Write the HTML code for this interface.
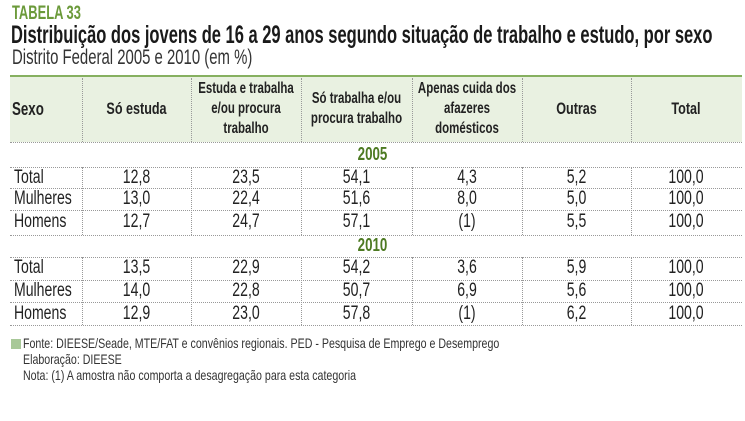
<!DOCTYPE html>
<html><head><meta charset="utf-8"><style>
body{margin:0;width:745px;height:421px;background:#fff;position:relative;overflow:hidden;font-family:"Liberation Sans",sans-serif;color:#222}
.a{position:absolute;white-space:nowrap;transform-origin:0 0}
.h{position:absolute;border-top:1px dotted #999;left:10px;width:732px;height:0}
.v{position:absolute;border-left:1px dotted #999;width:0}
.c{position:absolute;text-align:center;font-size:19px;line-height:22px;transform:scaleX(.74);transform-origin:50% 0;white-space:nowrap}
.l{text-align:left;transform-origin:0 0}
.hd{position:absolute;text-align:center;font-weight:bold;font-size:15.5px;line-height:20px;display:flex;align-items:center;justify-content:center;height:66px;top:76px;white-space:nowrap;transform:scaleX(.74);transform-origin:50% 0}
.yr{position:absolute;left:0;width:745px;text-align:center;color:#4d7a22;font-weight:bold;font-size:18px;transform:scaleX(.74);transform-origin:50% 0}
</style></head><body>
<div class="a" style="left:12px;top:3px;font-size:19px;font-weight:bold;color:#6b9a3a;transform:scaleX(.68)">TABELA 33</div>
<div class="a" style="left:11px;top:21px;font-size:25px;font-weight:bold;color:#1a1a1a;transform:scaleX(.66)">Distribuição dos jovens de 16 a 29 anos segundo situação de trabalho e estudo, por sexo</div>
<div class="a" style="left:12px;top:46px;font-size:21px;color:#333;transform:scaleX(.71)">Distrito Federal 2005 e 2010 (em %)</div>
<div style="position:absolute;left:10px;top:75px;width:732px;height:67px;background:#e9f1e1;border-top:2px solid #86b060;box-sizing:border-box"></div>
<div class="hd" style="left:12px;width:70px;justify-content:flex-start;font-size:18px;transform-origin:0 0">Sexo</div>
<div class="hd" style="left:82px;width:109px;font-size:17px">Só estuda</div>
<div class="hd" style="left:191px;width:110px">Estuda e trabalha<br>e/ou procura<br>trabalho</div>
<div class="hd" style="left:301px;width:111px">Só trabalha e/ou<br>procura trabalho</div>
<div class="hd" style="left:412px;width:110px">Apenas cuida dos<br>afazeres<br>domésticos</div>
<div class="hd" style="left:522px;width:109px;font-size:17px">Outras</div>
<div class="hd" style="left:631px;width:110px;font-size:17px">Total</div>
<div class="v" style="left:82px;top:78px;height:64px"></div>
<div class="v" style="left:191px;top:78px;height:64px"></div>
<div class="v" style="left:301px;top:78px;height:64px"></div>
<div class="v" style="left:412px;top:78px;height:64px"></div>
<div class="v" style="left:522px;top:78px;height:64px"></div>
<div class="v" style="left:631px;top:78px;height:64px"></div>
<div class="h" style="top:142px"></div>
<div class="yr" style="top:144px">2005</div>
<div class="h" style="top:167px"></div>
<div class="h" style="top:188px"></div>
<div class="h" style="top:210px"></div>
<div class="h" style="top:235px"></div>
<div class="yr" style="top:235px">2010</div>
<div class="h" style="top:257px"></div>
<div class="h" style="top:280px"></div>
<div class="h" style="top:302px"></div>
<div class="h" style="top:325px"></div>
<div class="v" style="left:82px;top:167px;height:68px"></div>
<div class="v" style="left:191px;top:167px;height:68px"></div>
<div class="v" style="left:301px;top:167px;height:68px"></div>
<div class="v" style="left:412px;top:167px;height:68px"></div>
<div class="v" style="left:522px;top:167px;height:68px"></div>
<div class="v" style="left:631px;top:167px;height:68px"></div>
<div class="v" style="left:82px;top:257px;height:68px"></div>
<div class="v" style="left:191px;top:257px;height:68px"></div>
<div class="v" style="left:301px;top:257px;height:68px"></div>
<div class="v" style="left:412px;top:257px;height:68px"></div>
<div class="v" style="left:522px;top:257px;height:68px"></div>
<div class="v" style="left:631px;top:257px;height:68px"></div>

<div class="c l" style="left:14px;top:167px">Total</div>
<div class="c" style="left:82px;width:109px;top:167px">12,8</div>
<div class="c" style="left:191px;width:110px;top:167px">23,5</div>
<div class="c" style="left:301px;width:111px;top:167px">54,1</div>
<div class="c" style="left:412px;width:110px;top:167px">4,3</div>
<div class="c" style="left:522px;width:109px;top:167px">5,2</div>
<div class="c" style="left:631px;width:110px;top:167px">100,0</div>
<div class="c l" style="left:14px;top:188px">Mulheres</div>
<div class="c" style="left:82px;width:109px;top:188px">13,0</div>
<div class="c" style="left:191px;width:110px;top:188px">22,4</div>
<div class="c" style="left:301px;width:111px;top:188px">51,6</div>
<div class="c" style="left:412px;width:110px;top:188px">8,0</div>
<div class="c" style="left:522px;width:109px;top:188px">5,0</div>
<div class="c" style="left:631px;width:110px;top:188px">100,0</div>
<div class="c l" style="left:14px;top:211px">Homens</div>
<div class="c" style="left:82px;width:109px;top:211px">12,7</div>
<div class="c" style="left:191px;width:110px;top:211px">24,7</div>
<div class="c" style="left:301px;width:111px;top:211px">57,1</div>
<div class="c" style="left:412px;width:110px;top:211px">(1)</div>
<div class="c" style="left:522px;width:109px;top:211px">5,5</div>
<div class="c" style="left:631px;width:110px;top:211px">100,0</div>

<div class="c l" style="left:14px;top:257px">Total</div>
<div class="c" style="left:82px;width:109px;top:257px">13,5</div>
<div class="c" style="left:191px;width:110px;top:257px">22,9</div>
<div class="c" style="left:301px;width:111px;top:257px">54,2</div>
<div class="c" style="left:412px;width:110px;top:257px">3,6</div>
<div class="c" style="left:522px;width:109px;top:257px">5,9</div>
<div class="c" style="left:631px;width:110px;top:257px">100,0</div>
<div class="c l" style="left:14px;top:280px">Mulheres</div>
<div class="c" style="left:82px;width:109px;top:280px">14,0</div>
<div class="c" style="left:191px;width:110px;top:280px">22,8</div>
<div class="c" style="left:301px;width:111px;top:280px">50,7</div>
<div class="c" style="left:412px;width:110px;top:280px">6,9</div>
<div class="c" style="left:522px;width:109px;top:280px">5,6</div>
<div class="c" style="left:631px;width:110px;top:280px">100,0</div>
<div class="c l" style="left:14px;top:303px">Homens</div>
<div class="c" style="left:82px;width:109px;top:303px">12,9</div>
<div class="c" style="left:191px;width:110px;top:303px">23,0</div>
<div class="c" style="left:301px;width:111px;top:303px">57,8</div>
<div class="c" style="left:412px;width:110px;top:303px">(1)</div>
<div class="c" style="left:522px;width:109px;top:303px">6,2</div>
<div class="c" style="left:631px;width:110px;top:303px">100,0</div>

<div style="position:absolute;left:11px;top:339px;width:10px;height:10px;background:#a8c898"></div>
<div class="a" style="left:23px;top:335px;font-size:14px;line-height:16px;color:#333;transform:scaleX(.76)">Fonte: DIEESE/Seade, MTE/FAT e convênios regionais. PED - Pesquisa de Emprego e Desemprego<br>Elaboração: DIEESE<br>Nota: (1) A amostra não comporta a desagregação para esta categoria</div>
</body></html>
